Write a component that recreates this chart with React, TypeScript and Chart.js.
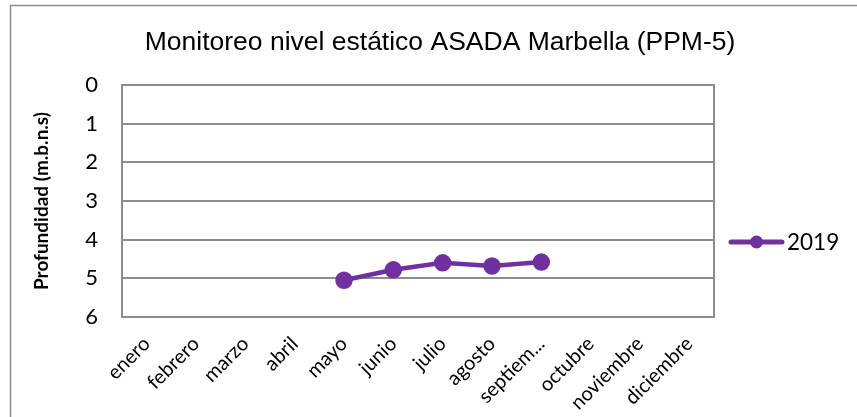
import React, { useEffect, useRef } from "react";
import { Chart, registerables } from "chart.js";

Chart.register(...registerables);

const months = ["enero", "febrero", "marzo", "abril", "mayo", "junio", "julio", "agosto", "septiem...", "octubre", "noviembre", "diciembre"];
const values2019: (number | null)[] = [null, null, null, null, 5.05, 4.78, 4.6, 4.68, 4.58, null, null, null];
const seriesName = "2019";
const titleText = "Monitoreo nivel estático ASADA Marbella (PPM-5)";
const yTitle = "Profundidad (m.b.n.s)";

const PURPLE = "#7030A0";
const GRID = "#8c8c8c";

export default function App() {
  const ref = useRef<HTMLCanvasElement | null>(null);
  useEffect(() => {
    document.body.style.margin = "0";
    const canvas = ref.current!;
    const decor = {
      id: "decor",
      beforeDraw(chart: any) {
        const ctx = chart.ctx;
        ctx.save();
        ctx.fillStyle = "#fff";
        ctx.fillRect(0, 0, chart.width, chart.height);
        ctx.strokeStyle = GRID;
        ctx.lineWidth = 1.5;
        ctx.strokeRect(10.5, 5.5, 1000, 1000);
        ctx.fillStyle = "#000";
        ctx.font = "26.5px 'Liberation Sans', Arial, sans-serif";
        ctx.textAlign = "center";
        ctx.textBaseline = "middle";
        ctx.fillText(titleText, 440, 43);
        ctx.restore();
      },
      afterDraw(chart: any) {
        const ctx = chart.ctx;
        const a = chart.chartArea;
        ctx.save();
        ctx.strokeStyle = GRID;
        ctx.lineWidth = 2;
        ctx.strokeRect(a.left, a.top, a.right - a.left, a.bottom - a.top);
        // legend
        const ly = 242;
        ctx.strokeStyle = PURPLE;
        ctx.lineWidth = 5;
        ctx.lineCap = "round";
        ctx.beginPath();
        ctx.moveTo(731, ly);
        ctx.lineTo(782, ly);
        ctx.stroke();
        ctx.fillStyle = PURPLE;
        ctx.beginPath();
        ctx.arc(756.5, ly, 6.5, 0, Math.PI * 2);
        ctx.fill();
        ctx.fillStyle = "#000";
        ctx.font = "22.5px Lato, sans-serif";
        ctx.textAlign = "left";
        ctx.textBaseline = "middle";
        ctx.fillText(seriesName, 787, ly + 1);
        ctx.restore();
      },
    };
    const chart = new Chart(canvas, {
      type: "line",
      data: {
        labels: months,
        datasets: [
          {
            label: seriesName,
            data: values2019,
            borderColor: PURPLE,
            backgroundColor: PURPLE,
            borderWidth: 4.5,
            pointRadius: 6.5,
            pointHoverRadius: 6.5,
            pointBackgroundColor: PURPLE,
            pointBorderColor: PURPLE,
            tension: 0,
            spanGaps: false,
          },
        ],
      },
      options: {
        animation: false,
        responsive: false,
        maintainAspectRatio: false,
        layout: { padding: { top: 85, right: 143, bottom: 0, left: 0 } },
        plugins: { legend: { display: false }, title: { display: false }, tooltip: { enabled: false } },
        scales: {
          x: {
            offset: true,
            grid: { display: false, drawTicks: false },
            border: { display: false },
            ticks: {
              color: "#000",
              font: { family: "Lato, sans-serif", size: 20 },
              minRotation: 45,
              maxRotation: 45,
              autoSkip: false,
              padding: 15,
            },
            afterFit(scale: any) {
              scale.height = 100;
            },
          },
          y: {
            reverse: true,
            min: 0,
            max: 6,
            ticks: {
              stepSize: 1,
              color: "#000",
              font: { family: "Lato, sans-serif", size: 22 },
              padding: 24,
            },
            grid: { color: GRID, lineWidth: 2, drawTicks: false },
            border: { display: false },
            title: {
              display: true,
              text: yTitle,
              color: "#000",
              font: { family: "Lato, sans-serif", size: 19, weight: "bold" },
              padding: { top: 30, bottom: 0 },
            },
            afterFit(scale: any) {
              scale.width = 122;
            },
          },
        },
      },
      plugins: [decor],
    });
    return () => chart.destroy();
  }, []);
  return (
    <div style={{ width: 857, height: 417, position: "relative" }}>
      <canvas ref={ref} width={857} height={417} style={{ display: "block", width: 857, height: 417 }} />
    </div>
  );
}
